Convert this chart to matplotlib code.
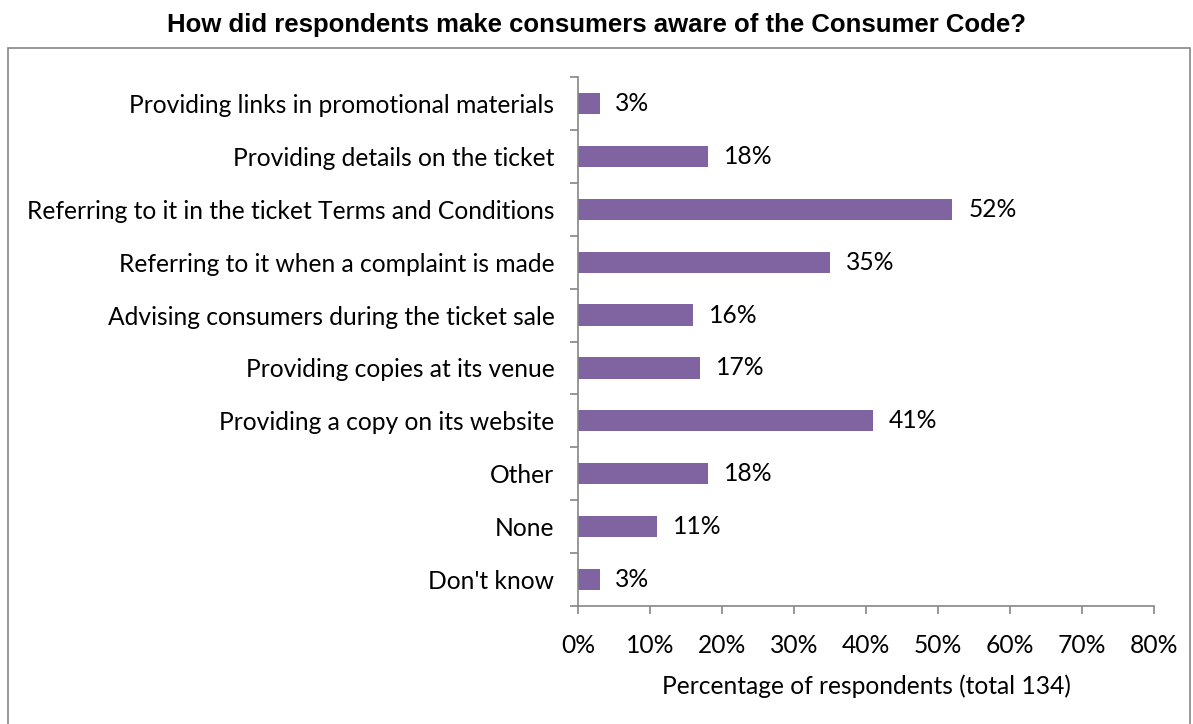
import matplotlib.pyplot as plt
from matplotlib.patches import Rectangle
from matplotlib.ticker import FixedLocator, PercentFormatter

categories = ['Providing links in promotional materials',
              'Providing details on the ticket',
              'Referring to it in the ticket Terms and Conditions',
              'Referring to it when a complaint is made',
              'Advising consumers during the ticket sale',
              'Providing copies at its venue',
              'Providing a copy on its website',
              'Other',
              'None',
              "Don't know"]
values = [3, 18, 52, 35, 16, 17, 41, 18, 11, 3]

plt.rcParams['font.family'] = ['Lato', 'DejaVu Sans']
grey = '#868686'
fs = 17.7

fig = plt.figure(figsize=(11.93, 7.24), dpi=100)
ax = fig.add_axes([0.4845, 0.163, 0.4828, 0.7306])

ypos = list(range(len(categories)))[::-1]
ax.barh(ypos, values, height=0.4, color='#8064A2')
for y, v in zip(ypos, values):
    ax.text(v + 2.2, y, f'{v}%', va='center', ha='left', fontsize=fs)

ax.set_xlim(0, 80)
ax.set_ylim(-0.5, len(categories) - 0.5)
ax.set_xticks(range(0, 81, 10))
ax.xaxis.set_major_formatter(PercentFormatter(decimals=0))
ax.set_yticks(ypos)
ax.set_yticklabels(categories)
ax.yaxis.set_minor_locator(FixedLocator([i - 0.5 for i in range(len(categories) + 1)]))
ax.tick_params(axis='y', which='major', length=0, pad=17, labelsize=fs)
ax.tick_params(axis='y', which='minor', length=6, color=grey, width=1.2)
ax.tick_params(axis='x', length=6, color=grey, width=1.2, pad=14, labelsize=fs)
ax.set_xlabel('Percentage of respondents (total 134)', fontsize=fs, labelpad=13)

for s in ['top', 'right']:
    ax.spines[s].set_visible(False)
for s in ['left', 'bottom']:
    ax.spines[s].set_color(grey)
    ax.spines[s].set_linewidth(1.2)

fig.patches.append(Rectangle((8 / 1193, -0.05), 1182 / 1193, 1.05 - 48 / 724,
                             transform=fig.transFigure, fill=False,
                             edgecolor=grey, linewidth=1.2))
fig.text(0.5, 1 - 25 / 724, 'How did respondents make consumers aware of the Consumer Code?',
         ha='center', va='center', fontsize=18.5, fontweight='bold',
         family='Liberation Sans')

fig.savefig('out.png', dpi=100)
